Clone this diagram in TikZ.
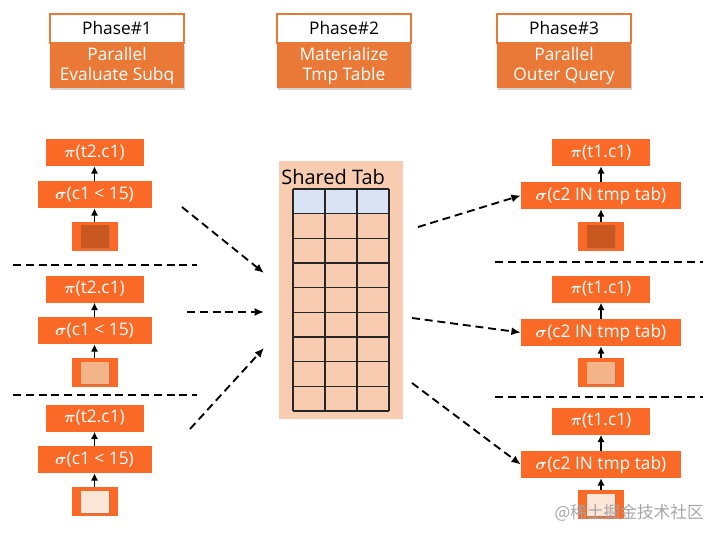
\documentclass[tikz,border=0pt]{standalone}
\usepackage{fontspec}
\setmainfont{Open Sans}
\newfontfamily\cjk{Noto Sans CJK SC}
\usepackage{amsmath}
\usepackage{xcolor}
\usetikzlibrary{arrows.meta,positioning,shadows}
\definecolor{phaseorange}{RGB}{234,120,55}
\definecolor{planorange}{RGB}{250,105,38}
\definecolor{tabpeach}{RGB}{248,204,176}
\definecolor{tabhead}{RGB}{218,227,243}
\definecolor{srcdark}{RGB}{200,88,32}
\definecolor{srcmid}{RGB}{244,180,138}
\definecolor{srclight}{RGB}{252,230,216}

\begin{document}
\begin{tikzpicture}[
    x=0.75pt, y=-0.75pt,
    phasehead/.style={draw=phaseorange, line width=0.8pt, fill=white, minimum width=100.5pt, minimum height=21.75pt, inner sep=0pt, font=\fontsize{13}{15}\selectfont},
    phasedesc/.style={fill=phaseorange, minimum width=100.5pt, minimum height=33pt, inner sep=0pt, align=center, text=white, font=\fontsize{13}{15}\selectfont, drop shadow={shadow xshift=1pt, shadow yshift=-1.5pt, opacity=0.35}},
    planbox/.style={fill=planorange, minimum height=20.25pt, inner sep=0pt, text=white, font=\fontsize{13}{15}\selectfont},
    projbox/.style={planbox, minimum width=73.5pt},
    selbox/.style={planbox, minimum width=85.5pt},
    selwide/.style={planbox, minimum width=120pt},
    srcbox/.style={fill=planorange, minimum width=34.5pt, minimum height=21.75pt, inner sep=0pt},
    srcinner/.style={minimum width=21pt, minimum height=16.5pt, inner sep=0pt, drop shadow={shadow xshift=0.8pt, shadow yshift=-1pt, opacity=0.4}},
    uparrow/.style={-{Latex[length=5.5pt, width=5.5pt]}, line width=1.4pt},
    flow/.style={dash pattern=on 6pt off 3.6pt, line width=1.4pt, -{Latex[length=7pt, width=6pt]}},
    sepline/.style={dash pattern=on 6pt off 3.6pt, line width=1.4pt},
  ]
    \useasboundingbox (0,0) rectangle (720,538);
    % phase headers
    \node[phasehead] (ph1) at (117,28.5) {Phase\#1};
    \node[phasedesc, below=0pt of ph1] (desc1) {Parallel\\Evaluate Subq};
    \node[phasehead] (ph2) at (344,28.5) {Phase\#2};
    \node[phasedesc, below=0pt of ph2] (desc2) {Materialize\\Tmp Table};
    \node[phasehead] (ph3) at (564,28.5) {Phase\#3};
    \node[phasedesc, below=0pt of ph3] (desc3) {Parallel\\Outer Query};
    % left column: subquery plans
    \foreach \i/\yp/\ys/\yq/\shade in {1/152.5/194.5/236.5/srcdark, 2/289/330.5/372.5/srcmid, 3/418/459.5/501.5/srclight} {
      \node[projbox] (piL\i) at (94.5,\yp) {$\boldsymbol{\pi}$(t2.c1)};
      \node[selbox] (sigL\i) at (94.5,\ys) {$\boldsymbol{\sigma}$(c1 < 15)};
      \node[srcbox] (srcL\i) at (94.5,\yq) {};
      \node[srcinner, fill=\shade] at (srcL\i) {};
      \draw[uparrow] (srcL\i) -- (sigL\i);
      \draw[uparrow] (sigL\i) -- (piL\i);
    }
    \draw[sepline] (13,265) -- (197,265);
    \draw[sepline] (13,395) -- (197,395);
    % right column: outer query plans
    \foreach \i/\yp/\ys/\yq/\shade in {1/152.5/195.5/236.5/srcdark, 2/289/332.5/372.5/srcmid, 3/421/464.5/504.5/srclight} {
      \node[projbox] (piR\i) at (601,\yp) {$\boldsymbol{\pi}$(t1.c1)};
      \node[selwide] (sigR\i) at (601,\ys) {$\boldsymbol{\sigma}$(c2 IN tmp tab)};
      \node[srcbox] (srcR\i) at (601,\yq) {};
      \node[srcinner, fill=\shade] at (srcR\i) {};
      \draw[uparrow] (srcR\i) -- (sigR\i);
      \draw[uparrow] (sigR\i) -- (piR\i);
    }
    \draw[sepline] (495,262) -- (703,262);
    \draw[sepline] (495,397) -- (703,397);
    % shared table
    \node[fill=tabpeach, minimum width=93pt, minimum height=193.5pt, inner sep=0pt] (tab) at (341,290) {};
    \node[anchor=west, inner sep=0pt, font=\fontsize{15}{17}\selectfont] (tabname) at (281,177) {Shared Tab};
    \fill[tabhead] (293,189) rectangle (389,213.7);
    \foreach \r in {0,...,9} { \draw[line width=1pt, black!85] (293,189+24.67*\r) -- (389,189+24.67*\r); }
    \foreach \c in {0,...,3} { \draw[line width=1pt, black!85] (293+32*\c,189) -- (293+32*\c,411); }
    % data flow
    \coordinate (inA) at (182,207);
    \coordinate (inB) at (187,312);
    \coordinate (inC) at (190,429);
    \coordinate (tabA) at (264,273);
    \coordinate (tabB) at (264,312);
    \coordinate (tabC) at (264,348);
    \draw[flow] (inA) -- (tabA);
    \draw[flow] (inB) -- (tabB);
    \draw[flow] (inC) -- (tabC);
    \coordinate (outA) at (418,227);
    \coordinate (outB) at (412,318);
    \coordinate (outC) at (412,383);
    \draw[flow] (outA) -- (sigR1.west);
    \draw[flow] (outB) -- (sigR2.west);
    \draw[flow] (outC) -- (sigR3.west);
    \node[anchor=east, inner sep=0pt, text=black!35, font=\cjk\fontsize{12.5}{14}\selectfont] (mark) at (704,513) {@稀土掘金技术社区};
  \end{tikzpicture}
\end{document}
